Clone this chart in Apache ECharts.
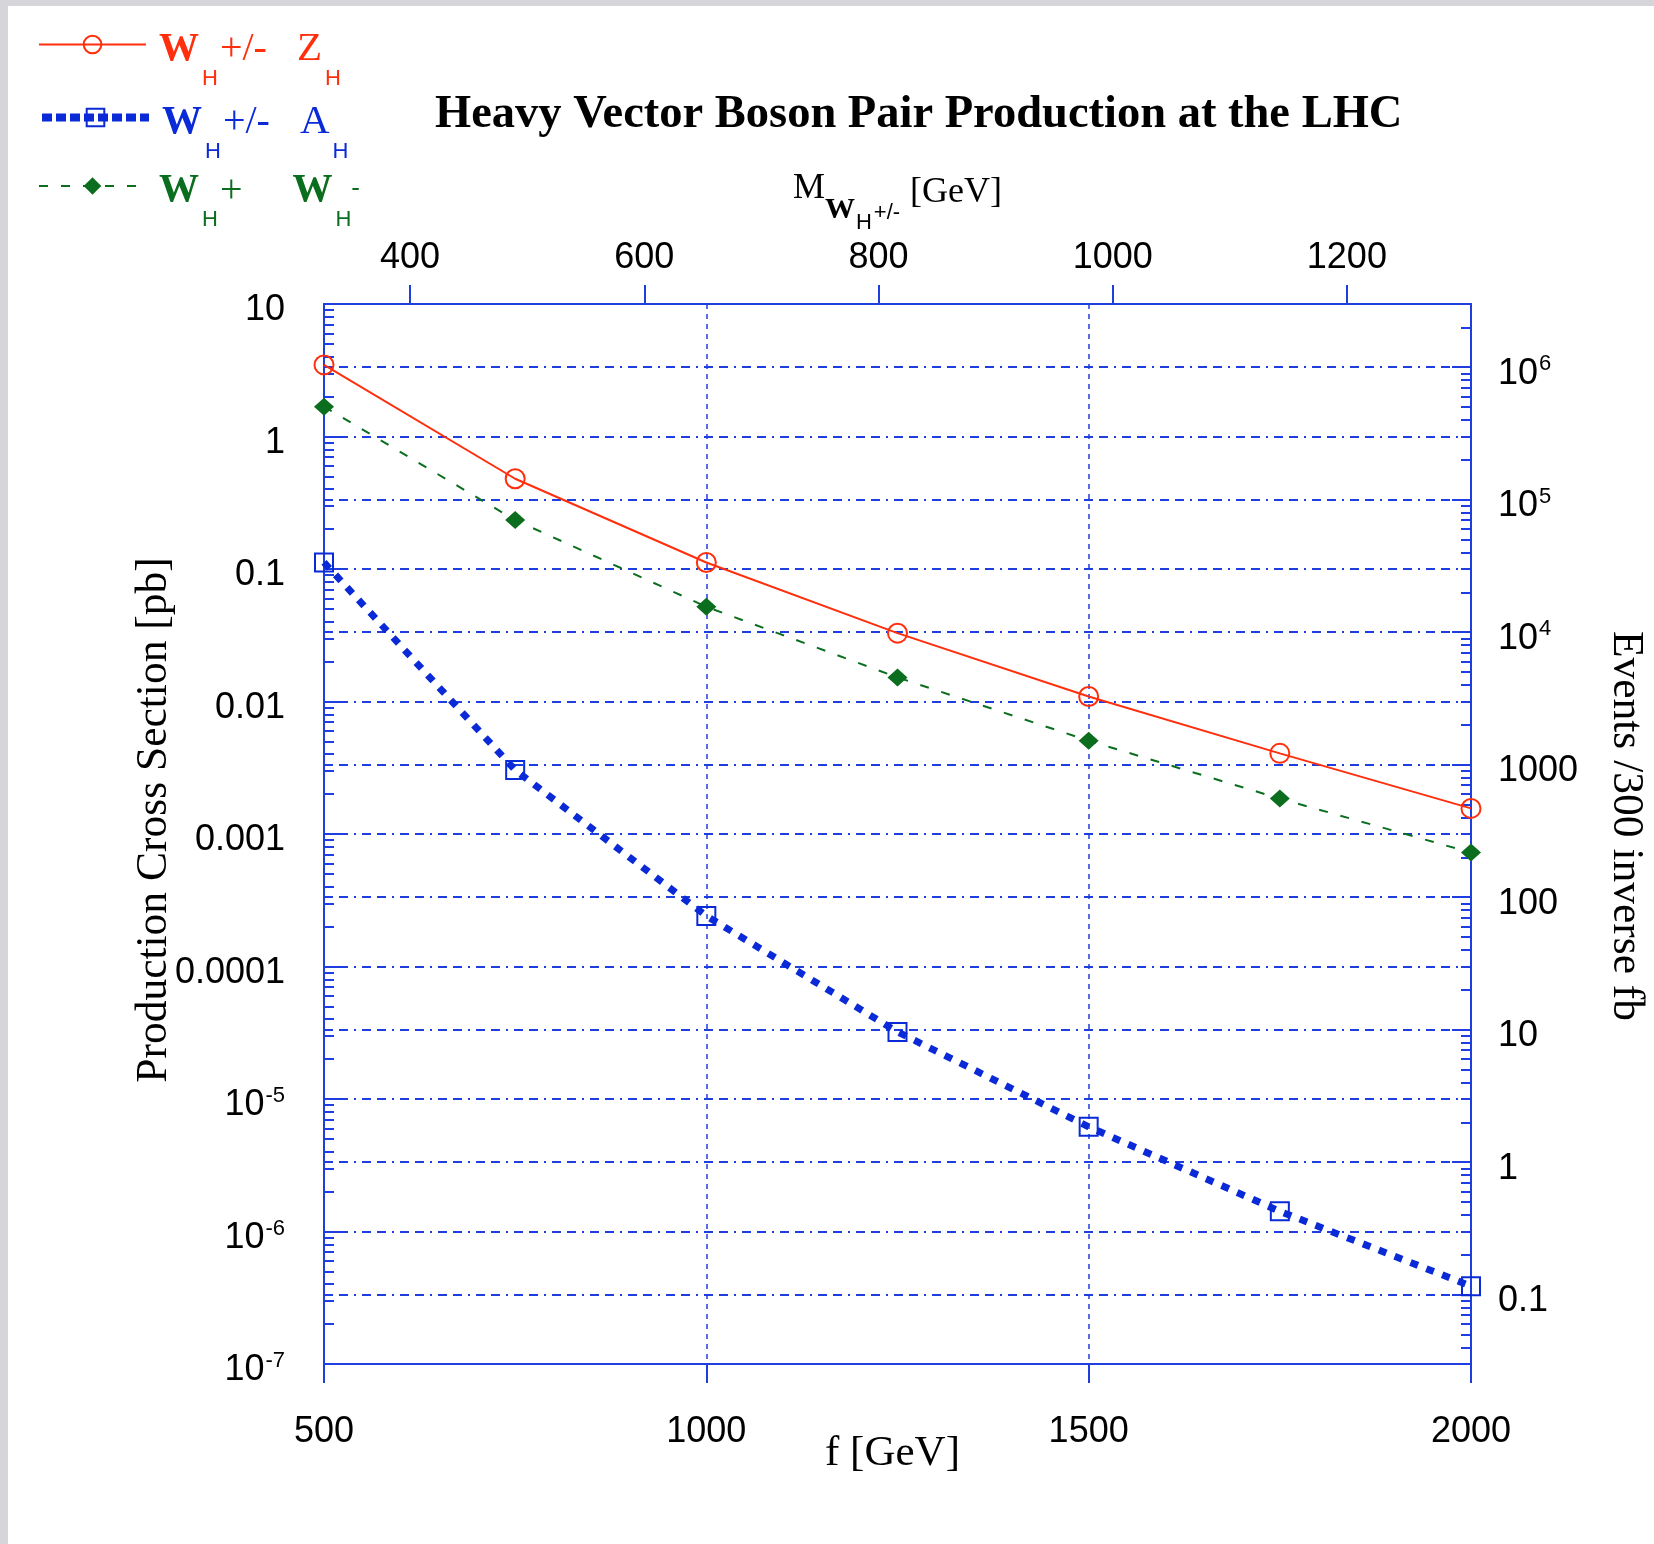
<!DOCTYPE html>
<html>
<head>
<meta charset="utf-8">
<script src="https://cdn.jsdelivr.net/npm/echarts@6/dist/echarts.min.js"></script>
<style>
  html, body { margin: 0; padding: 0; background: #ffffff; }
  #chart { width: 1654px; height: 1544px; }
</style>
</head>
<body>
<div id="chart"></div>
<script>
// ---------------- data ----------------
const fValues = [500, 750, 1000, 1250, 1500, 1750, 2000];            // f [GeV]
const sigmaWZ = [3.47, 0.48, 0.112, 0.0328, 0.0109, 0.00406, 0.00156]; // W_H+/- Z_H  [pb]
const sigmaWA = [0.112, 0.00304, 0.000241, 3.21e-5, 6.17e-6, 1.42e-6, 3.87e-7]; // W_H+/- A_H
const sigmaWW = [1.68, 0.234, 0.0519, 0.0152, 0.00506, 0.00185, 0.000724];      // W_H+ W_H-

const bottomTickValues = [500, 1000, 1500, 2000];
const topTickValues = [400, 600, 800, 1000, 1200];          // M_WH [GeV]
const massPerF = 0.653;                                     // M_WH / f
const leftTickValues = [10, 1, 0.1, 0.01, 0.001, 0.0001, 1e-5, 1e-6, 1e-7];
const leftTickLabels = ['10', '1', '0.1', '0.01', '0.001', '0.0001', '10^-5', '10^-6', '10^-7'];
const rightTickValues = [1e6, 1e5, 1e4, 1000, 100, 10, 1, 0.1];
const rightTickLabels = ['10^6', '10^5', '10^4', '1000', '100', '10', '1', '0.1'];
const eventsPerPb = 3e5;                                    // 300 fb^-1

// ---------------- styling ----------------
const RED = '#ff2e0c';
const BLUE = '#0a2ad8';
const GREEN = '#0b6e1f';
const AXIS = '#1e3ee0';
const SERIF = '"Liberation Serif", "Times New Roman", serif';
const SANS = '"Liberation Sans", Arial, sans-serif';

function minorValues(minExp, maxExp, lo, hi) {
  const out = [];
  for (let k = minExp; k <= maxExp; k++) {
    for (let m = 2; m <= 9; m++) {
      const v = m * Math.pow(10, k);
      if (v > lo * 1.0001 && v < hi * 0.9999) out.push(v);
    }
  }
  return out;
}
function richTick(s) {
  if (s.indexOf('^') >= 0) {
    const p = s.split('^');
    return '{n|' + p[0] + '}{s|' + p[1] + '}';
  }
  return '{n|' + s + '}';
}
function makeFormatter(values, labels) {
  return function (v) {
    const i = values.findIndex(t => Math.abs(Math.log10(t) - Math.log10(v)) < 1e-6);
    return i < 0 ? '' : richTick(labels[i]);
  };
}
const tickRich = {
  n: { fontFamily: SANS, fontSize: 36, color: '#000', padding: [13, 0, 0, 0] },
  s: { fontFamily: SANS, fontSize: 22, color: '#000', padding: [0, 0, 6, 1] }
};

const yMin = 1e-7, yMax = 10;
const rMin = yMin * eventsPerPb, rMax = yMax * eventsPerPb;

const gridLineStyle = { color: AXIS, width: 2, type: [9, 6, 9, 6, 2, 6] };

function legendRich(c) {
  return {
    W: { fontFamily: SERIF, fontWeight: 'bold', fontSize: 40, color: c, padding: [10, 0, 0, 8] },
    h: { fontFamily: SANS, fontSize: 22, color: c, padding: [68, 0, 0, 3] },
    p: { fontFamily: SERIF, fontSize: 40, color: c, padding: [10, 0, 0, 2] },
    Z: { fontFamily: SERIF, fontSize: 41, color: c, padding: [10, 0, 0, 30] },
    W2: { fontFamily: SERIF, fontWeight: 'bold', fontSize: 40, color: c, padding: [10, 0, 0, 50] },
    m: { fontFamily: SANS, fontSize: 26, color: c, padding: [6, 0, 0, 0] }
  };
}
const legendBase = {
  left: 38, itemWidth: 107, itemHeight: 22, padding: 0, orient: 'vertical',
  selectedMode: false
};

const chart = echarts.init(document.getElementById('chart'), null, { renderer: 'canvas' });

const option = {
  backgroundColor: '#ffffff',
  animation: false,
  title: {
    text: 'Heavy Vector Boson Pair Production at the LHC',
    left: 430, top: 86,
    textStyle: { fontFamily: SERIF, fontWeight: 'bold', fontSize: 46.5, color: '#000' }
  },
  graphic: [
    { type: 'rect', shape: { x: 0, y: 0, width: 1654, height: 6 }, style: { fill: '#d6d6da' }, silent: true },
    { type: 'rect', shape: { x: 0, y: 0, width: 8, height: 1544 }, style: { fill: '#d6d6da' }, silent: true }
  ],
  legend: [
    Object.assign({}, legendBase, {
      top: 29, data: ['WZ'],
      formatter: () => '{W|W}{h|H}{p|+/-}{Z|Z}{h|H}',
      textStyle: { rich: legendRich(RED) }
    }),
    Object.assign({}, legendBase, {
      top: 102, data: ['WA'],
      lineStyle: { width: 8, type: [10, 4] },
      formatter: () => '{W|W}{h|H}{p|+/-}{Z|A}{h|H}',
      textStyle: { rich: legendRich(BLUE) }
    }),
    Object.assign({}, legendBase, {
      top: 171, data: ['WW'],
      formatter: () => '{W|W}{h|H}{p|+}{W2|W}{h|H}{m|-}',
      textStyle: { rich: legendRich(GREEN) }
    })
  ],
  grid: { left: 324, top: 304, width: 1147, height: 1060, containLabel: false, outerBoundsMode: 'none' },
  xAxis: [
    {
      type: 'value', position: 'bottom', min: 500, max: 2000, interval: 500,
      axisLine: { lineStyle: { color: AXIS, width: 2 } },
      axisTick: { inside: false, length: 19, customValues: bottomTickValues, lineStyle: { color: AXIS, width: 2 } },
      axisLabel: { margin: 50, customValues: bottomTickValues, formatter: v => String(v), fontFamily: SANS, fontSize: 36, color: '#000' },
      splitLine: { show: true, lineStyle: { color: AXIS, width: 1.5, type: [5, 5] } },
      name: 'f [GeV]', nameLocation: 'middle', nameGap: 68, nameMoveOverlap: false,
      nameTextStyle: { fontFamily: SERIF, fontSize: 43, color: '#000', padding: [0, 10, 0, 0] }
    },
    {
      type: 'value', position: 'top',
      min: fValues[0] * massPerF, max: fValues[fValues.length - 1] * massPerF,
      axisLine: { lineStyle: { color: AXIS, width: 2 } },
      axisTick: { inside: false, length: 19, customValues: topTickValues, lineStyle: { color: AXIS, width: 2 } },
      axisLabel: { margin: 28, customValues: topTickValues, formatter: v => String(v), fontFamily: SANS, fontSize: 36, color: '#000' },
      splitLine: { show: false },
      name: '{m|M}{w|W}{h|H}{pm|+/-}{g|[GeV]}', nameLocation: 'middle', nameGap: 70, nameMoveOverlap: false,
      nameTextStyle: {
        color: '#000',
        rich: {
          m: { fontFamily: SERIF, fontSize: 36, color: '#000' },
          w: { fontFamily: SERIF, fontWeight: 'bold', fontSize: 30, color: '#000', padding: [42, 0, 0, 0] },
          h: { fontFamily: SANS, fontSize: 22, color: '#000', padding: [68, 0, 0, 1] },
          pm: { fontFamily: SANS, fontSize: 22, color: '#000', padding: [48, 0, 0, 2] },
          g: { fontFamily: SERIF, fontSize: 36, color: '#000', padding: [8, 0, 0, 10] }
        }
      }
    }
  ],
  yAxis: [
    {
      type: 'log', logBase: 10, position: 'left', min: yMin, max: yMax, splitNumber: 8,
      axisLine: { show: true, lineStyle: { color: AXIS, width: 2 } },
      axisTick: { show: true, inside: true, length: 19, customValues: leftTickValues, lineStyle: { color: AXIS, width: 2 } },
      axisLabel: { margin: 39, customValues: leftTickValues, formatter: makeFormatter(leftTickValues, leftTickLabels), rich: tickRich },
      splitLine: { show: true, lineStyle: gridLineStyle },
      name: 'Production Cross Section [pb]', nameLocation: 'middle', nameRotate: 90, nameGap: 147, nameMoveOverlap: false,
      nameTextStyle: { fontFamily: SERIF, fontSize: 43.5, color: '#000', padding: [0, 0, 0, 28] }
    },
    {
      type: 'log', logBase: 10, position: 'right', min: rMin, max: rMax, splitNumber: 8,
      axisLine: { show: true, lineStyle: { color: AXIS, width: 2 } },
      axisTick: { show: true, inside: true, length: 19, customValues: rightTickValues, lineStyle: { color: AXIS, width: 2 } },
      axisLabel: { margin: 27, customValues: rightTickValues, formatter: makeFormatter(rightTickValues, rightTickLabels), rich: tickRich },
      splitLine: { show: true, lineStyle: gridLineStyle },
      name: 'Events /300 inverse fb', nameLocation: 'middle', nameRotate: -90, nameGap: 132, nameMoveOverlap: false,
      nameTextStyle: { fontFamily: SERIF, fontSize: 43.5, color: '#000', padding: [0, 16, 0, 0] }
    },
    {
      type: 'log', logBase: 10, position: 'left', min: yMin, max: yMax,
      axisLine: { show: false },
      axisTick: { show: true, inside: true, length: 10, customValues: minorValues(-7, 0, yMin, yMax), lineStyle: { color: AXIS, width: 2 } },
      axisLabel: { show: false },
      splitLine: { show: false }
    },
    {
      type: 'log', logBase: 10, position: 'right', min: rMin, max: rMax,
      axisLine: { show: false },
      axisTick: { show: true, inside: true, length: 10, customValues: minorValues(-2, 6, rMin, rMax), lineStyle: { color: AXIS, width: 2 } },
      axisLabel: { show: false },
      splitLine: { show: false }
    }
  ],
  series: [
    {
      name: 'WZ', type: 'line', xAxisIndex: 0, yAxisIndex: 0, clip: false, z: 4,
      data: fValues.map((f, i) => [f, sigmaWZ[i]]),
      symbol: 'circle', symbolSize: 19,
      itemStyle: { color: 'rgba(255,255,255,0)', borderColor: RED, borderWidth: 2 },
      lineStyle: { color: RED, width: 2 },
      emphasis: { disabled: true }
    },
    {
      name: 'WA', type: 'line', xAxisIndex: 0, yAxisIndex: 0, clip: false, z: 3,
      data: fValues.map((f, i) => [f, sigmaWA[i]]),
      symbol: 'rect', symbolSize: 18,
      itemStyle: { color: 'rgba(255,255,255,0)', borderColor: BLUE, borderWidth: 2 },
      lineStyle: { color: BLUE, width: 7, type: [8, 9], cap: 'butt' },
      emphasis: { disabled: true }
    },
    {
      name: 'WW', type: 'line', xAxisIndex: 0, yAxisIndex: 0, clip: false, z: 3,
      data: fValues.map((f, i) => [f, sigmaWW[i]]),
      symbol: 'diamond', symbolSize: [20, 18],
      itemStyle: { color: GREEN },
      lineStyle: { color: GREEN, width: 2, type: [9, 13] },
      emphasis: { disabled: true }
    }
  ]
};
chart.setOption(option);
</script>
</body>
</html>
